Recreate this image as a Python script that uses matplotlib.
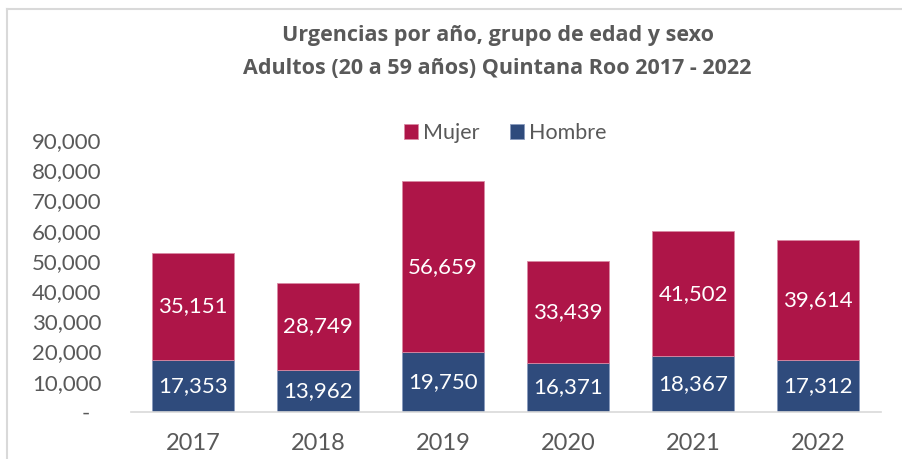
import matplotlib
matplotlib.use("Agg")
import matplotlib.pyplot as plt
from matplotlib.lines import Line2D
from matplotlib.ticker import FuncFormatter

years = ["2017", "2018", "2019", "2020", "2021", "2022"]
hombre = [17353, 13962, 19750, 16371, 18367, 17312]
mujer = [35151, 28749, 56659, 33439, 41502, 39614]

color_mujer = "#AE1548"
color_hombre = "#2F4B7C"
gray = "#595959"

plt.rcParams["font.family"] = ["Lato", "DejaVu Sans"]

fig = plt.figure(figsize=(9.02, 4.59), dpi=100)
ax = fig.add_axes([0.1447, 0.1024, 0.8315, 0.5926])

x = range(len(years))
ax.bar(x, hombre, width=0.66, color=color_hombre, edgecolor="#8A9BBD", linewidth=0.6, label="Hombre")
ax.bar(x, mujer, width=0.66, bottom=hombre, color=color_mujer, edgecolor="#D98AA3", linewidth=0.6, label="Mujer")

for i in x:
    ax.text(i, hombre[i] / 2, f"{hombre[i]:,}", ha="center", va="center",
            color="white", fontsize=16)
    ax.text(i, hombre[i] + mujer[i] / 2, f"{mujer[i]:,}", ha="center", va="center",
            color="white", fontsize=16)

ax.set_xlim(-0.5, 5.5)
ax.set_ylim(0, 90000)
ax.set_yticks(range(0, 90001, 10000))
ax.yaxis.set_major_formatter(FuncFormatter(lambda v, p: "-  " if v == 0 else f"{int(v):,}"))
ax.set_xticks(list(x))
ax.set_xticklabels(years)
ax.tick_params(axis="y", length=0, labelsize=16, labelcolor=gray, pad=21)
ax.tick_params(axis="x", length=0, labelsize=17, labelcolor=gray, pad=15)

for side in ["top", "right", "left"]:
    ax.spines[side].set_visible(False)
ax.spines["bottom"].set_color("#D9D9D9")
ax.spines["bottom"].set_linewidth(1.2)

handles, labels = ax.get_legend_handles_labels()
ax.legend(handles[::-1], labels[::-1], loc="center", bbox_to_anchor=(0.5, 1.025),
          ncol=2, frameon=False, handlelength=0.65, handleheight=0.65,
          columnspacing=1.4, handletextpad=0.25, labelcolor=gray,
          prop={"size": 15.5})

fig.text(0.5516, 0.922, "Urgencias por año, grupo de edad y sexo", ha="center", va="center",
         fontsize=15.5, fontweight="bold", color=gray, family=["Open Sans", "DejaVu Sans"])
fig.text(0.5516, 0.850, "Adultos (20 a 59 años) Quintana Roo 2017 - 2022", ha="center", va="center",
         fontsize=15.5, fontweight="bold", color=gray, family=["Open Sans", "DejaVu Sans"])

# chart frame
fig.add_artist(Line2D([0.008, 0.008], [0, 0.981], transform=fig.transFigure, color="#D9D9D9", linewidth=1.5))
fig.add_artist(Line2D([0.008, 1.0], [0.981, 0.981], transform=fig.transFigure, color="#D9D9D9", linewidth=1.5))

fig.savefig("out.png", dpi=100)
